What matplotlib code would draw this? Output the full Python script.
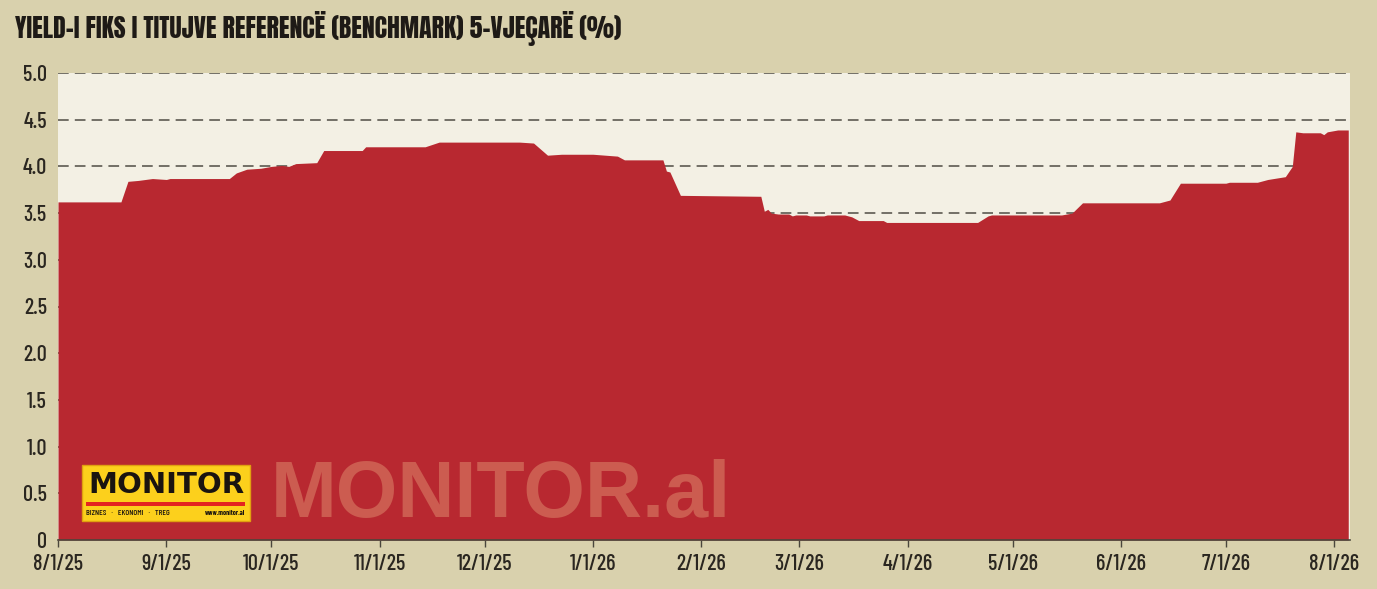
import matplotlib.pyplot as plt
from matplotlib.patches import Rectangle
import pandas as pd

# yield readings (date, %)
dates = [
    "2025-08-01", "2025-08-19", "2025-08-21", "2025-08-24", "2025-08-28",
    "2025-09-01", "2025-09-02", "2025-09-19", "2025-09-21", "2025-09-24",
    "2025-09-28", "2025-10-01", "2025-10-04", "2025-10-06", "2025-10-08",
    "2025-10-14", "2025-10-16", "2025-10-27", "2025-10-28", "2025-11-14",
    "2025-11-18", "2025-12-11", "2025-12-15", "2025-12-19", "2025-12-23",
    "2026-01-01", "2026-01-08", "2026-01-10", "2026-01-21", "2026-01-22",
    "2026-01-23", "2026-01-26", "2026-02-18", "2026-02-19", "2026-02-20",
    "2026-02-21", "2026-02-23", "2026-02-26", "2026-02-27", "2026-02-28",
    "2026-03-03", "2026-03-04", "2026-03-08", "2026-03-09", "2026-03-14",
    "2026-03-16", "2026-03-18", "2026-03-25", "2026-03-26", "2026-04-21",
    "2026-04-24", "2026-04-25", "2026-05-15", "2026-05-18", "2026-05-21",
    "2026-06-12", "2026-06-15", "2026-06-18", "2026-07-01", "2026-07-02",
    "2026-07-10", "2026-07-13", "2026-07-18", "2026-07-20", "2026-07-21",
    "2026-07-23", "2026-07-28", "2026-07-29", "2026-07-30", "2026-08-02",
    "2026-08-05",
]
yields = [
    3.62, 3.62, 3.84, 3.85, 3.87,
    3.86, 3.87, 3.87, 3.93, 3.97,
    3.98, 4.00, 4.01, 4.00, 4.03,
    4.04, 4.17, 4.17, 4.21, 4.21,
    4.26, 4.26, 4.25, 4.12, 4.13,
    4.13, 4.11, 4.07, 4.07, 3.95,
    3.94, 3.69, 3.68, 3.52, 3.54,
    3.50, 3.49, 3.49, 3.47, 3.48,
    3.48, 3.47, 3.47, 3.48, 3.48,
    3.46, 3.42, 3.42, 3.40, 3.40,
    3.47, 3.48, 3.48, 3.50, 3.61,
    3.61, 3.64, 3.82, 3.82, 3.83,
    3.83, 3.86, 3.89, 4.00, 4.37,
    4.36, 4.36, 4.34, 4.37, 4.39,
    4.39,
]

tick_dates = ["2025-08-01", "2025-09-01", "2025-10-01", "2025-11-01", "2025-12-01",
              "2026-01-01", "2026-02-01", "2026-03-01", "2026-04-01", "2026-05-01",
              "2026-06-01", "2026-07-01", "2026-08-01"]
tick_labels = ["8/1/25", "9/1/25", "10/1/25", "11/1/25", "12/1/25", "1/1/26", "2/1/26",
               "3/1/26", "4/1/26", "5/1/26", "6/1/26", "7/1/26", "8/1/26"]
y_ticks = [0, 0.5, 1.0, 1.5, 2.0, 2.5, 3.0, 3.5, 4.0, 4.5, 5.0]
y_labels = ["0", "0.5", "1.0", "1.5", "2.0", "2.5", "3.0", "3.5", "4.0", "4.5", "5.0"]

title = "YIELD-I FIKS I TITUJVE REFERENCË (BENCHMARK) 5-VJEÇARË (%)"

BG = "#d9d1ad"
PANEL = "#f3f0e4"
RED = "#b82830"
TITLE_FONT = ["Anton", "DejaVu Sans"]
TICK_FONT = ["Barlow Condensed", "DejaVu Sans"]
MARK_FONT = ["Liberation Sans", "DejaVu Sans"]

x = pd.to_datetime(dates)

fig = plt.figure(figsize=(13.77, 5.89), dpi=100, facecolor=BG)
ax = fig.add_axes([58 / 1377, 49 / 589, 1292 / 1377, 467 / 589])
ax.set_facecolor(PANEL)

ax.fill_between(x, 0, yields, color=RED, linewidth=0, zorder=2)

ax.set_ylim(0, 5)
ax.set_xlim(pd.Timestamp("2025-08-01"), pd.Timestamp("2026-08-05 12:00"))
ax.set_yticks(y_ticks)
ax.set_yticklabels(y_labels)
ax.set_xticks(pd.to_datetime(tick_dates))
ax.set_xticklabels(tick_labels)
ax.yaxis.grid(True, linestyle=(0, (7, 4)), color="#4f4c44", linewidth=1.1, zorder=1)
ax.set_axisbelow(True)

for side in ["left", "right", "top"]:
    ax.spines[side].set_visible(False)
ax.spines["bottom"].set_color("#4a463c")
ax.spines["bottom"].set_linewidth(1.2)
ax.spines["bottom"].set_zorder(3)

ax.tick_params(axis="y", length=0, pad=8, labelsize=16, labelcolor="#2a2620")
ax.tick_params(axis="x", length=5, width=1, color="#4a463c", pad=5,
               labelsize=16, labelcolor="#2a2620")
for lbl in ax.get_xticklabels() + ax.get_yticklabels():
    lbl.set_family(TICK_FONT)
    lbl.set_fontweight(500)

fig.text(15 / 1377, 1 - 29 / 589, title, family=TITLE_FONT,
         fontsize=18.5, color="#1e1a16", va="center", ha="left")

# logo box and watermark
ax.add_patch(Rectangle((82 / 1377, 1 - 521 / 589), 168 / 1377, 56 / 589,
                       transform=fig.transFigure, facecolor="#fcd01c",
                       edgecolor="#e0a010", linewidth=1, zorder=4))
ax.add_patch(Rectangle((86 / 1377, 1 - 506 / 589), 159 / 1377, 4 / 589,
                       transform=fig.transFigure, facecolor="#e42420",
                       linewidth=0, zorder=5))
fig.text(166 / 1377, 1 - 485 / 589, "MONITOR", family="DejaVu Sans", fontweight="heavy",
         fontsize=21, color="#1a1410", ha="center", va="center", zorder=6)
fig.text(86 / 1377, 1 - 513 / 589, "BIZNES   ·   EKONOMI   ·   TREG", family=TICK_FONT,
         fontweight=500, fontsize=6, color="#1a1410", ha="left", va="center", zorder=6)
fig.text(245 / 1377, 1 - 513 / 589, "www.monitor.al", family=TICK_FONT, fontweight="bold",
         fontsize=5, color="#1a1410", ha="right", va="center", zorder=6)
fig.text(271 / 1377, 1 - 497 / 589, "MONITOR.al", family=MARK_FONT, fontweight="bold",
         fontsize=57, color="#cc5c50", ha="left", va="center", zorder=6)

fig.savefig("out.png", dpi=100, facecolor=BG)
